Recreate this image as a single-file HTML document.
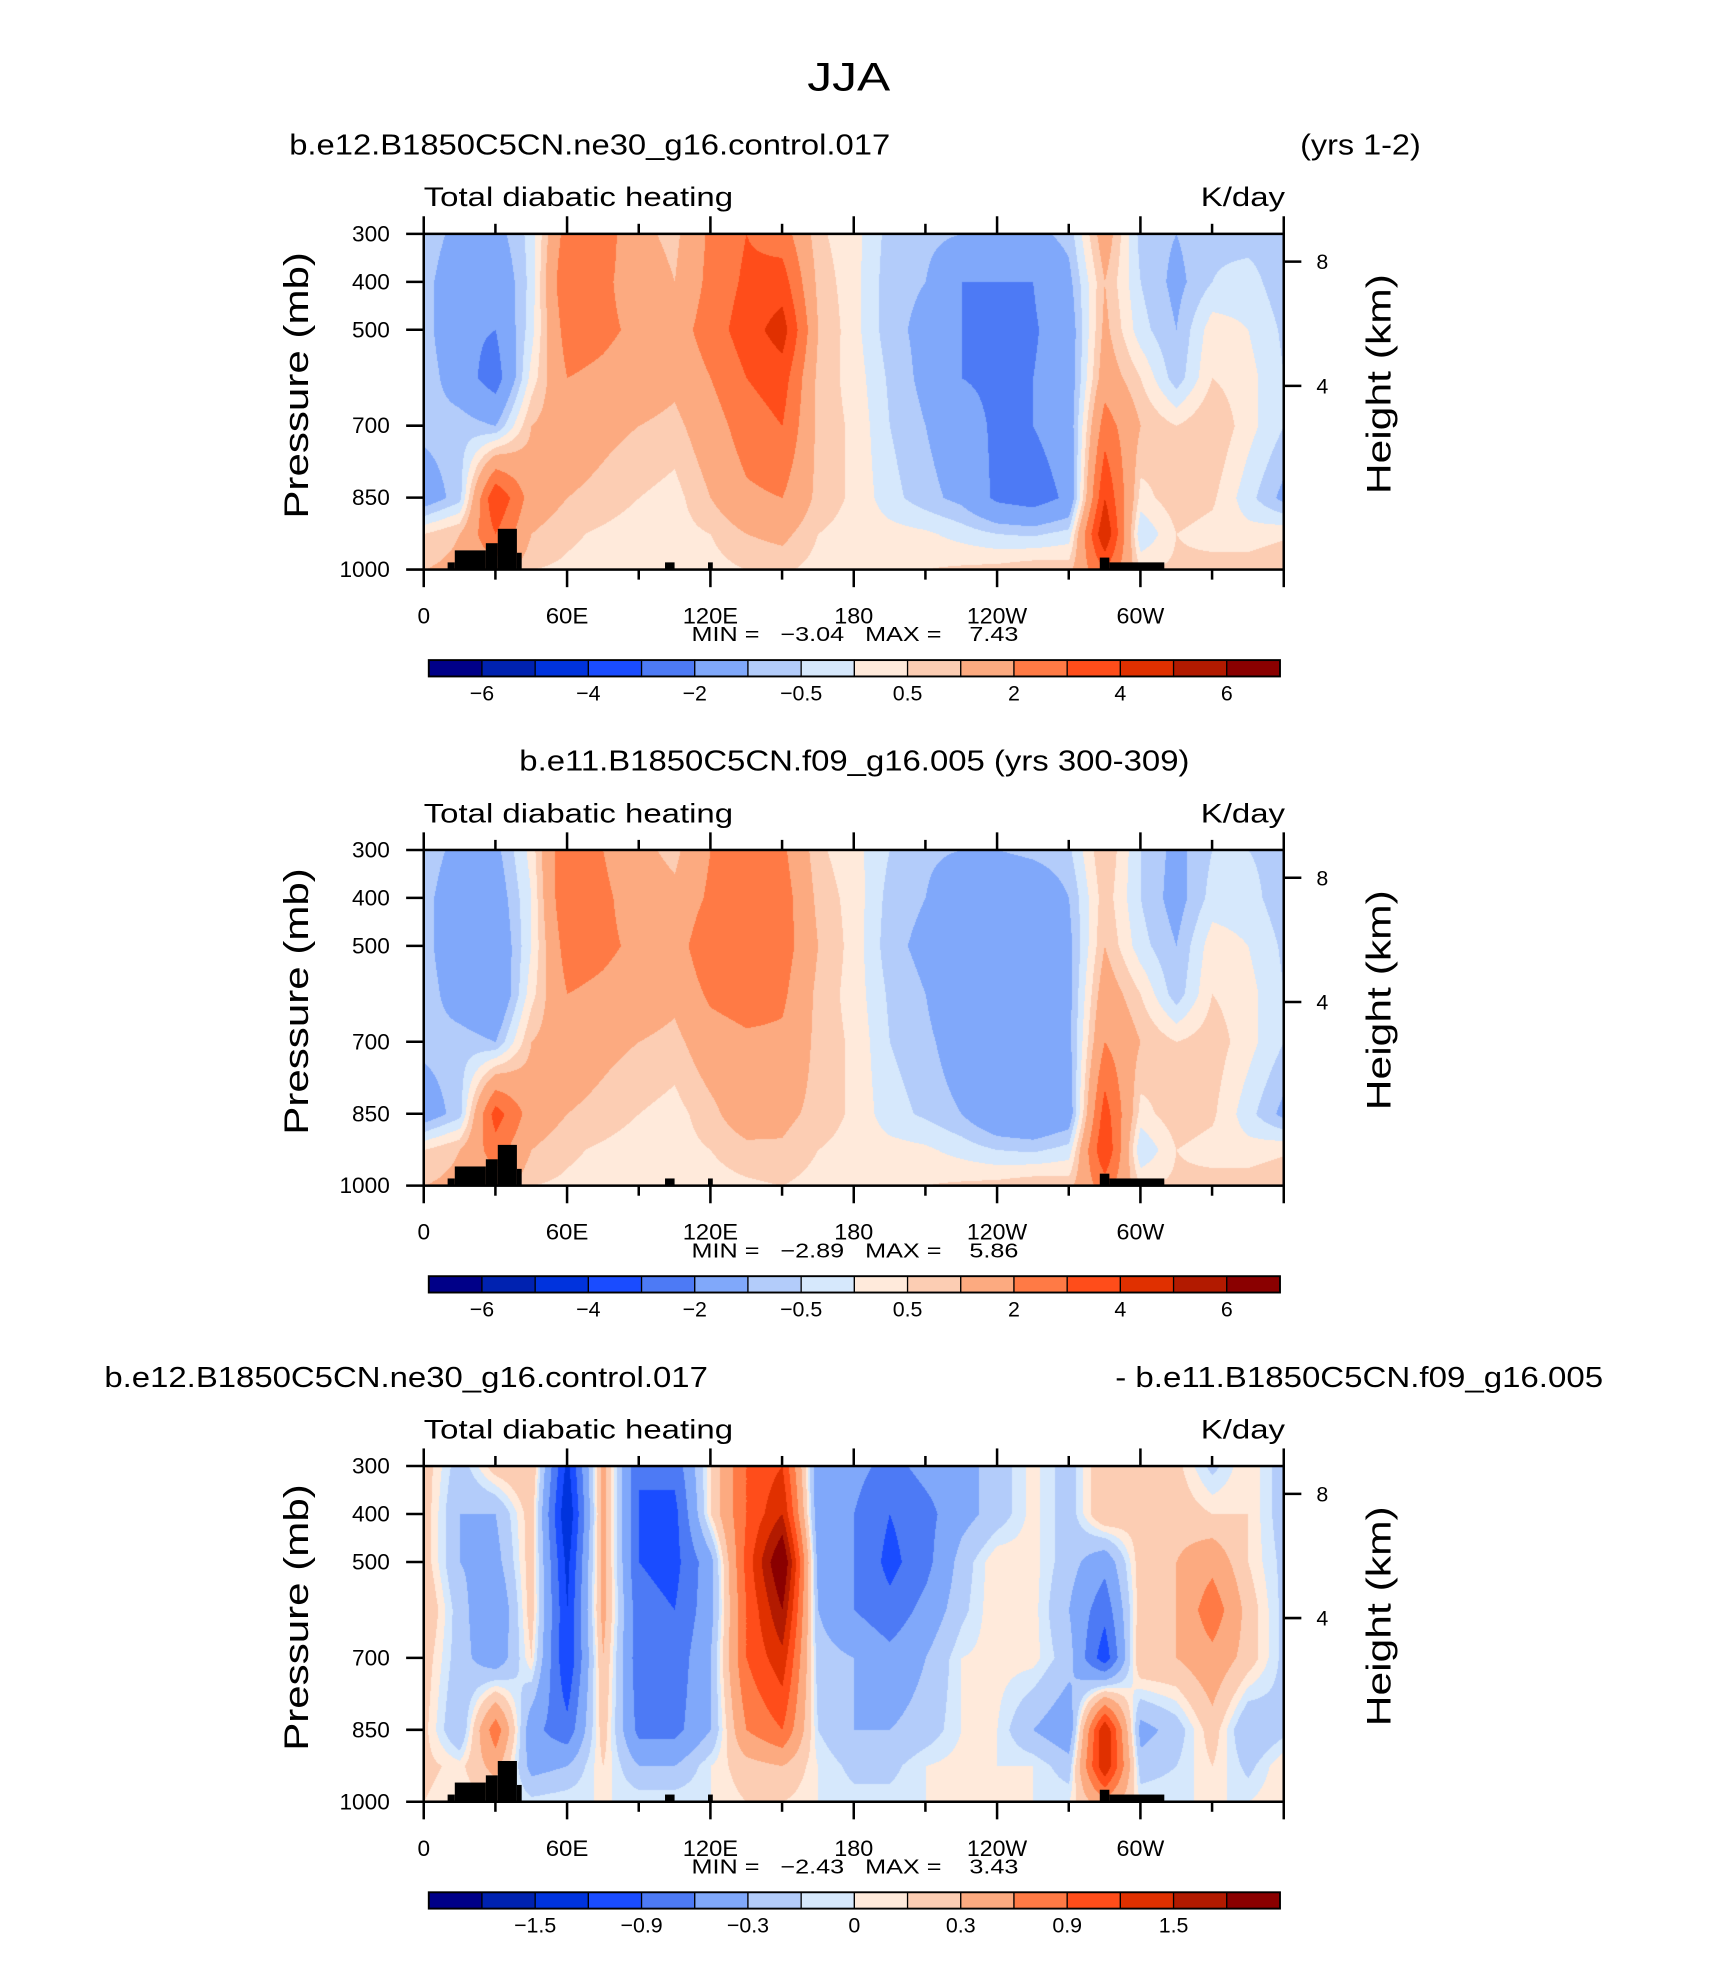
<!DOCTYPE html>
<html><head><meta charset="utf-8">
<style>
html,body{margin:0;padding:0;background:#fff;}
#root{position:relative;width:1710px;height:1974px;overflow:hidden;background:#fff;}
svg{position:absolute;left:0;top:0;}
canvas{position:absolute;}
text{font-family:"Liberation Sans",sans-serif;fill:#000;}
</style></head>
<body>
<div id="root">
<canvas id="c1"></canvas>
<canvas id="c2"></canvas>
<canvas id="c3"></canvas>
<svg id="svg" width="1710" height="1974" viewBox="0 0 1360 1570">
<text x="675" y="72" font-size="32" text-anchor="middle" textLength="66" lengthAdjust="spacingAndGlyphs">JJA</text>
<text x="230" y="123" font-size="23" textLength="478" lengthAdjust="spacingAndGlyphs">b.e12.B1850C5CN.ne30_g16.control.017</text>
<text x="1034" y="123" font-size="23" textLength="96" lengthAdjust="spacingAndGlyphs">(yrs 1-2)</text>
<text x="413" y="613" font-size="23" textLength="533" lengthAdjust="spacingAndGlyphs">b.e11.B1850C5CN.f09_g16.005 (yrs 300-309)</text>
<text x="83" y="1103" font-size="23" textLength="480" lengthAdjust="spacingAndGlyphs">b.e12.B1850C5CN.ne30_g16.control.017</text>
<text x="887" y="1103" font-size="23" textLength="388" lengthAdjust="spacingAndGlyphs">- b.e11.B1850C5CN.f09_g16.005</text>
<g id="axes"></g>
</svg>
</div>
<script>
// ---------- data ----------
const lons=[0,15,30,45,60,75,90,105,120,135,150,165,180,195,210,225,240,255,270,285,300,315,330,345,360];
const levs=[300,400,500,600,700,850,925,1000];
const panel1Field=[
[-0.7,-1.2,-1.3,-0.3,2.5,2.5,1.2,0.8,2.2,3,2.5,0.6,0.2,-0.7,-0.8,-1,-1,-1.2,-0.8,1.5,-0.7,-1,-0.6,-0.7,-0.7],
[-0.8,-1.5,-1.8,-0.3,3,2.2,1.5,1,2.3,3.2,3.5,0.8,0.2,-0.8,-1,-2,-2,-2,-1.2,1,-0.5,-1.2,-0.5,-0.3,-0.8],
[-0.7,-1.8,-2,-0.2,2.5,2.2,1.8,1.5,2.5,3.5,4.5,1,0.2,-0.8,-1.2,-2,-2.2,-2.1,-1.5,1.2,-0.3,-1,0.3,0,-0.6],
[-0.6,-1.5,-2.5,0.2,2,1.8,1.5,1.2,2,3,3.5,0.8,0.3,-0.6,-1.2,-2,-2.2,-2,-1.5,1.5,0.5,-0.8,0.5,0.2,-0.5],
[-0.8,-0.7,-1,1,1.5,1.2,1,0.8,1.5,2.5,3,0.8,0.4,-0.5,-1,-1.5,-2.2,-2,-1.5,2.5,1,0.5,1,0.2,-0.5],
[-1.5,-0.7,4,1.5,1,0.8,0.5,0.3,1,1.8,2,0.8,0.4,-0.3,-0.8,-1.2,-2.2,-2.5,-1.8,4,0.3,0.8,0.6,-0.3,-1.2],
[0.5,1,3,1,0.6,0.4,0.2,0.3,0.5,1,1.2,0.5,0.3,0.2,0.1,-0.2,-0.5,-0.6,-0.3,5,-0.5,0.5,0.3,0.2,0.4],
[1,1.2,1.5,0.5,0.4,0.3,0.2,0.3,0.3,0.5,0.6,0.3,0.3,0.4,0.5,0.6,0.7,0.9,0.8,3,0.5,0.6,0.7,0.8,1]];
const panel2Field=[
[-0.7,-1.2,-1.2,0.2,3,2,1.2,0.8,2,2.5,2.2,0.6,0.2,-0.5,-0.8,-1,-1,-0.8,-0.6,1,-0.5,-1.2,-0.5,-0.5,-0.7],
[-0.8,-1.5,-1.5,0,3,2.2,1.5,1.2,2.2,2.8,2.5,0.8,0.3,-0.7,-1,-2,-2,-1.8,-1,0.8,-0.5,-1.3,-0.3,-0.3,-0.8],
[-0.7,-1.8,-1.8,0,2.5,2.2,1.8,1.5,2.8,3,2.5,1,0.3,-0.8,-1.2,-2,-2,-2,-1.2,1,-0.3,-1,0.3,0,-0.6],
[-0.6,-1.5,-2,0.3,2,1.8,1.5,1.2,2.2,2.5,2.2,0.8,0.3,-0.6,-1,-2,-2,-1.8,-1.2,1.5,0.5,-0.8,0.5,0.2,-0.5],
[-0.8,-0.7,-1,1,1.5,1.2,1,0.8,1.5,1.8,1.8,0.8,0.4,-0.5,-0.8,-1.5,-2,-1.8,-1.2,2,1,0.5,0.8,0.2,-0.5],
[-1.5,-0.7,3.5,1.5,1,0.8,0.5,0.3,0.8,1.5,1.2,0.8,0.4,-0.3,-0.6,-1,-1.8,-2,-1.5,3.5,0.3,0.8,0.6,-0.3,-1.2],
[0.5,1,2.5,1,0.6,0.4,0.2,0.3,0.5,0.8,0.9,0.5,0.3,0.2,0.1,-0.2,-0.5,-0.6,-0.3,4,-0.5,0.5,0.3,0.2,0.4],
[1,1.2,1.5,0.5,0.4,0.3,0.2,0.3,0.3,0.4,0.5,0.3,0.3,0.4,0.5,0.6,0.7,0.9,0.8,2.5,0.5,0.6,0.7,0.8,1]];
const panel3Field=[
[0.2,-0.2,0.2,0.3,-1.3,0.4,-0.9,-0.8,0.1,0.9,1.2,-0.5,-0.5,-0.7,-0.5,-0.4,-0.2,0.05,-0.2,0.3,0.15,0.15,-0.15,0.1,-0.2],
[0.2,-0.3,-0.3,0.2,-1.5,0.4,-0.9,-1.0,0.1,0.9,1.5,-0.5,-0.6,-0.9,-0.7,-0.4,-0.2,0.05,-0.2,0.3,0.15,0.2,0.1,0.1,-0.2],
[0.2,-0.3,-0.4,0.2,-1.3,0.4,-0.9,-1.0,-0.4,1,2.2,-0.4,-0.6,-1.0,-0.7,-0.2,0.1,0.05,-0.2,-0.5,0.2,0.3,0.5,0.1,-0.15],
[0.3,-0.2,-0.6,0.2,-1.2,0.4,-0.8,-0.9,-0.4,0.9,1.8,-0.3,-0.6,-0.8,-0.5,-0.15,0.1,0.05,-0.3,-0.8,0.2,0.3,0.8,0.2,-0.15],
[0.2,-0.2,-0.5,0.1,-1.2,0.3,-0.8,-0.8,-0.3,0.9,1.4,-0.2,-0.3,-0.5,-0.3,0,0.05,0.05,-0.2,-1.1,0.3,0.3,0.5,0.2,-0.15],
[0.15,-0.3,0.8,-0.5,-0.8,0.2,-0.7,-0.7,-0.3,0.6,0.9,-0.1,-0.3,-0.3,-0.2,0,0,-0.3,-0.5,1.5,-0.4,-0.2,0.2,-0.3,-0.15],
[0.15,0.05,0.4,-0.4,-0.3,0.1,-0.3,-0.3,0,0.2,0.3,0,-0.15,-0.15,0,0.05,0,0,-0.2,1.5,-0.2,-0.1,0.1,-0.15,0.1],
[0.1,0,0.1,-0.05,0,0,0,0,0,0.1,0.1,0,-0.05,-0.05,0,0.05,0.05,0,0,0.5,0,0,0,0,0.1]];
const levelsAbs=[-6,-5,-4,-3,-2,-1,-0.5,0,0.5,1,2,3,4,5,6];
const levelsDiff=[-1.8,-1.5,-1.2,-0.9,-0.6,-0.3,-0.1,0,0.1,0.3,0.6,0.9,1.2,1.5,1.8];
const labelsAbs=["-6","-4","-2","-0.5","0.5","2","4","6"];
const labelsDiff=["-1.5","-0.9","-0.3","0","0.3","0.9","1.5"];
const landBlocks=[[10,13,985],[13,26,960],[26,31,945],[31,39,915],[39,41,965],[101,105,985],[119,121,985],[283,287,975],[287,310,985]];
const minMax1=["-3.04","7.43"], minMax2=["-2.89","5.86"], minMax3=["-2.43","3.43"];
const colors=['#000088','#0022b0','#0033dd','#1a4cff','#4d7af5','#80a8fa','#b3ccfa','#d6e8fc','#ffeadb','#fccdb3','#fcaa80','#ff7a45','#ff4d1a','#e03000','#b21a00','#8a0000'];
const pTicks=[300,400,500,700,850,1000];
const lonTicks=[0,60,120,180,240,300];
const lonLabels=["0","60E","120E","180","120W","60W"];
const hTickLabels=["8","4"];
const hTickPressure=[358,617];

// ---------- layout ----------
const S=1710/1360;
const X0=337,X1=1021;
const panels=[
 {top:186,field:panel1Field,levels:levelsAbs,labels:labelsAbs,lblIdx:[1,3,5,7,9,11,13,15],mm:minMax1,canvas:'c1'},
 {top:676,field:panel2Field,levels:levelsAbs,labels:labelsAbs,lblIdx:[1,3,5,7,9,11,13,15],mm:minMax2,canvas:'c2'},
 {top:1166,field:panel3Field,levels:levelsDiff,labels:labelsDiff,lblIdx:[2,4,6,8,10,12,14],mm:minMax3,canvas:'c3'}];
const PH=267;
const xOf=lon=>X0+(lon/360)*(X1-X0);
const yOf=(p,top)=>top+(p-300)/700*PH;

function sample(field,lon,p){
  let i=Math.min(lons.length-2,Math.floor(lon/15));let fx=(lon-lons[i])/15;
  let j=0;while(j<levs.length-2&&p>levs[j+1])j++;
  let fy=(p-levs[j])/(levs[j+1]-levs[j]);fy=Math.max(0,Math.min(1,fy));
  const a=field[j][i],b=field[j][i+1],c=field[j+1][i],d=field[j+1][i+1];
  return (a*(1-fx)+b*fx)*(1-fy)+(c*(1-fx)+d*fx)*fy;
}
function colorIdx(v,levels){let k=0;while(k<levels.length&&v>=levels[k])k++;return k;}
function hex(h){return [parseInt(h.substr(1,2),16),parseInt(h.substr(3,2),16),parseInt(h.substr(5,2),16)];}
const rgb=colors.map(hex);

const NS="http://www.w3.org/2000/svg";
const g=document.getElementById('axes');
function el(tag,attrs,parent){const e=document.createElementNS(NS,tag);for(const k in attrs)e.setAttribute(k,attrs[k]);(parent||g).appendChild(e);return e;}
function txt(x,y,s,size,anchor,parent,len){const t=el('text',{x:x,y:y,'font-size':size,'text-anchor':anchor||'start'},parent);if(len){t.setAttribute('textLength',len);t.setAttribute('lengthAdjust','spacingAndGlyphs');}t.textContent=s;return t;}

panels.forEach((P,pi)=>{
  const cv=document.getElementById(P.canvas);
  const W=Math.round((X1-X0)*S),H=Math.round(PH*S);
  cv.width=W;cv.height=H;cv.style.left=(X0*S)+'px';cv.style.top=(P.top*S)+'px';
  cv.style.width=W+'px';cv.style.height=H+'px';
  const ctx=cv.getContext('2d');const img=ctx.createImageData(W,H);
  for(let y=0;y<H;y++){const p=300+700*(y+0.5)/H;
    for(let x=0;x<W;x++){const lon=360*(x+0.5)/W;
      const c=rgb[colorIdx(sample(P.field,lon,p),P.levels)];const o=(y*W+x)*4;
      img.data[o]=c[0];img.data[o+1]=c[1];img.data[o+2]=c[2];img.data[o+3]=255;}}
  ctx.putImageData(img,0,0);

  const grp=el('g',{});
  
  
  const T=P.top,B=T+PH;
  landBlocks.forEach(b=>{const r=el('rect',{x:xOf(b[0]),y:yOf(b[2],T),width:xOf(b[1])-xOf(b[0]),height:B-yOf(b[2],T),fill:'#000'},grp);
    
    });
  const fr=el('rect',{x:X0,y:T,width:X1-X0,height:PH,fill:'none',stroke:'#000','stroke-width':2},grp);
  
  
  txt(X0,T-22,'Total diabatic heating',21,'start',grp,246);
  txt(955,T-22,'K/day',21,'start',grp,67);
  for(let l=0;l<=360;l+=30){const major=l%60===0;const x=xOf(l);const len=major?14:8;
    el('line',{x1:x,x2:x,y1:T,y2:T-len,stroke:'#000','stroke-width':2},grp);
    el('line',{x1:x,x2:x,y1:B,y2:B+len,stroke:'#000','stroke-width':2},grp);}
  lonTicks.forEach((l,i)=>{const w=[10,34,44,31,48,38][i];const t=txt(xOf(l),B+43,lonLabels[i],18,'middle',grp,w);
    
    });
  pTicks.forEach(p=>{const y=yOf(p,T);el('line',{x1:X0-14,x2:X0,y1:y,y2:y,stroke:'#000','stroke-width':2},grp);
    const t=txt(X0-27,y+6,String(p),18,'end',grp);
    
    });
  hTickPressure.forEach((p,i)=>{const y=yOf(p,T);
    el('line',{x1:X1,x2:X1+14,y1:y,y2:y,stroke:'#000','stroke-width':2},grp);
    txt(X1+26,y+6,hTickLabels[i],17,'start',grp);});
  const yl=txt(0,0,'Pressure (mb)',27,'middle',grp,212);
  yl.setAttribute('transform',`translate(245,${T+PH/2-13}) rotate(-90)`);
  
  const yr=txt(0,0,'Height (km)',27,'middle',grp,175);
  yr.setAttribute('transform',`translate(1106,${T+PH/2-14}) rotate(-90)`);
  
  const mm=txt(550,B+57,`MIN =   ${P.mm[0].replace('-','\u2212')}   MAX =    ${P.mm[1]}`,16,'start',grp,260);
  mm.setAttribute('xml:space','preserve');mm.style.whiteSpace='pre';
  
  const cbx=341,cbw=677,cby=B+72,cbh=13,bw=cbw/16;
  colors.forEach((c,i)=>{const r=el('rect',{x:cbx+i*bw,y:cby,width:bw,height:cbh,fill:c,stroke:'#000','stroke-width':1},grp);
    
    });
  el('rect',{x:cbx,y:cby,width:cbw,height:cbh,fill:'none',stroke:'#000','stroke-width':1.5},grp);
  P.labels.forEach((s,i)=>{const t=txt(cbx+P.lblIdx[i]*bw,cby+32,s.replace('-','\u2212'),17,'middle',grp);
    
    });
});
</script>
</body></html>
